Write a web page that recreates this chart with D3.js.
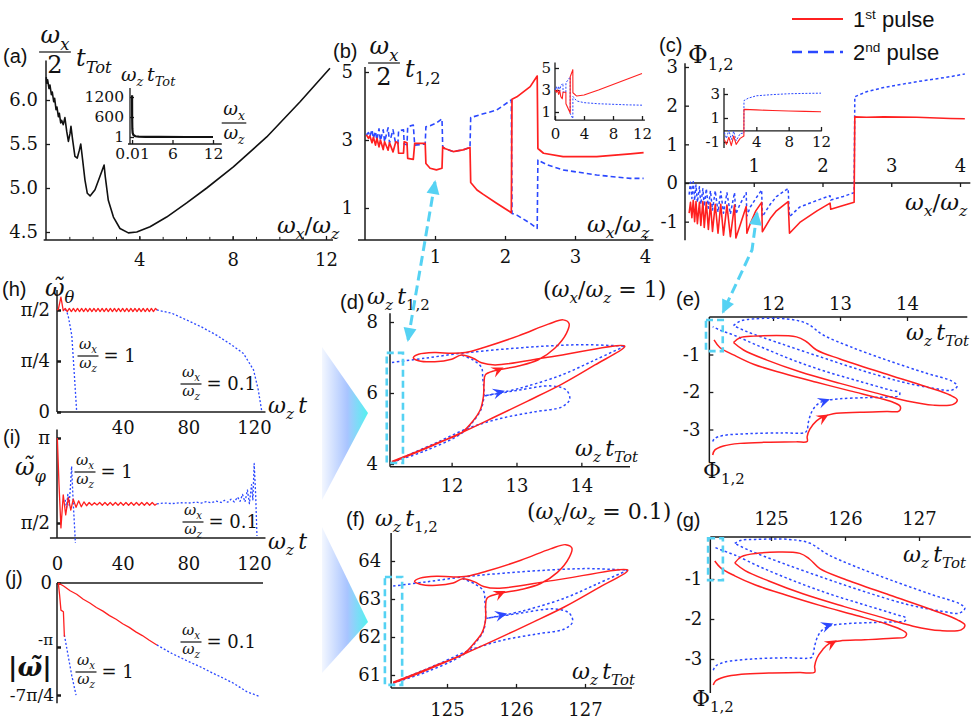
<!DOCTYPE html>
<html><head><meta charset="utf-8">
<script src="https://cdn.jsdelivr.net/npm/d3@7/dist/d3.min.js"></script>
<style>html,body{margin:0;padding:0;background:#fff}svg{display:block}text{white-space:pre}</style>
</head><body>
<svg id="fig" width="980" height="719"></svg>
<script>
// ================= DATA =================
const PI = Math.PI;
// (a) omega_x/2 * t_Tot vs omega_x/omega_z
const aMain = [[0.01,6.26],[0.03,6.19],[0.07,6.23],[0.13,6.13],[0.17,6.17],[0.23,6.06],[0.27,6.09],[0.33,5.98],[0.37,6.02],[0.43,5.89],[0.47,5.92],[0.53,5.81],[0.57,5.85],[0.63,5.74],[0.67,5.77],[0.74,5.72],[0.81,5.80],[0.89,5.64],[0.96,5.53],[1.03,5.62],[1.07,5.70],[1.14,5.55],[1.24,5.36],[1.34,5.34],[1.43,5.43],[1.49,5.50],[1.57,5.32],[1.67,5.09],[1.77,4.94],[1.89,4.91],[2.10,4.98],[2.31,5.13],[2.49,5.26],[2.54,5.13],[2.67,4.86],[2.89,4.67],[3.17,4.54],[3.53,4.49],[3.89,4.50],[4.46,4.56],[5.17,4.67],[6.03,4.83],[6.89,5.00],[8.03,5.24],[9.46,5.58],[10.89,5.98],[12.17,6.36]];
const aInset = [[0.01,1250],[0.02,630],[0.05,250],[0.1,125],[0.2,62],[0.5,24],[1,11],[2,5],[4,2.3],[8,1.3],[12,1.1]];
const aXTicks = [4,8,12], aYTicks = [4.5,5.0,5.5,6.0];
const aInX = [0.01,6,12], aInXLab = ['0.01','6','12'], aInY = [1,600,1200];
// (b) omega_x/2 * t_{1,2}
const bRed = [[0.02,3.15],[0.05,3.05],[0.07,3.12],[0.10,2.92],[0.12,3.08],[0.15,2.85],[0.17,3.05],[0.20,2.80],[0.22,3.00],[0.26,2.72],[0.28,2.95],[0.33,2.70],[0.35,2.92],[0.40,2.65],[0.44,2.95],[0.47,2.92],[0.48,2.61],[0.55,2.61],[0.56,2.95],[0.60,2.92],[0.61,2.46],[0.69,2.43],[0.71,2.90],[0.86,2.90],[0.87,2.31],[0.93,2.17],[1.02,2.12],[1.10,2.17],[1.11,2.80],[1.14,2.75],[1.26,2.66],[1.40,2.71],[1.50,2.78],[1.51,1.75],[1.60,1.53],[1.69,1.40],[1.88,1.14],[2.07,0.89],[2.09,0.86],[2.10,4.20],[2.17,4.27],[2.36,4.57],[2.46,4.88],[2.47,2.75],[2.55,2.61],[2.83,2.51],[3.31,2.51],[3.79,2.59],[3.98,2.63]];
const bBlue = [[0.02,3.15],[0.05,3.22],[0.07,3.10],[0.10,3.30],[0.12,3.05],[0.15,3.25],[0.17,3.00],[0.20,3.33],[0.22,2.98],[0.26,3.30],[0.28,2.95],[0.33,3.36],[0.35,2.92],[0.40,3.30],[0.44,2.88],[0.47,2.90],[0.48,3.27],[0.55,3.30],[0.56,2.88],[0.60,2.86],[0.61,3.39],[0.69,3.44],[0.71,2.85],[0.86,2.88],[0.87,3.39],[0.93,3.42],[1.02,3.50],[1.10,3.62],[1.11,2.80],[1.14,2.75],[1.26,2.66],[1.40,2.71],[1.50,2.78],[1.51,3.66],[1.69,3.77],[1.88,3.88],[2.09,4.18],[2.10,0.84],[2.17,0.79],[2.36,0.55],[2.46,0.40],[2.47,2.41],[2.60,2.27],[2.83,2.12],[3.31,1.97],[3.79,1.87],[3.98,1.87]];
const bInRed = [[0.02,3.0],[0.2,2.8],[0.35,3.0],[0.5,2.6],[0.65,2.95],[0.8,2.4],[1.0,2.2],[1.1,2.8],[1.5,2.8],[1.51,1.75],[2.09,0.9],[2.10,4.2],[2.46,4.85],[2.47,2.75],[3,2.45],[4,2.55],[6,3.0],[8,3.5],[10,4.0],[12,4.5]];
const bInBlue = [[0.02,3.0],[0.2,3.3],[0.35,2.9],[0.5,3.35],[0.65,2.9],[0.8,3.4],[1.1,3.6],[1.11,2.8],[1.5,2.8],[1.51,3.66],[2.09,4.18],[2.10,0.84],[2.46,0.4],[2.47,2.41],[3,2.0],[4,1.85],[6,1.75],[8,1.7],[10,1.65],[12,1.62]];
const bXTicks = [1,2,3,4], bYTicks = [1,3,5], bInX = [0,4,8,12], bInY = [1,3,5];
// (c) Phi_{1,2}
const cRed = [[0.06,-0.78],[0.08,-0.50],[0.10,-0.90],[0.12,-0.45],[0.14,-1.0],[0.16,-0.48],[0.18,-1.05],[0.21,-0.50],[0.23,-1.10],[0.26,-0.48],[0.28,-1.15],[0.31,-0.50],[0.34,-1.20],[0.37,-0.52],[0.40,-1.25],[0.44,-0.55],[0.48,-1.30],[0.52,-0.55],[0.56,-1.35],[0.61,-0.57],[0.66,-1.39],[0.72,-0.57],[0.74,-1.42],[0.80,-1.10],[0.89,-0.61],[0.90,-1.30],[0.95,-1.05],[1.03,-0.72],[1.115,-0.50],[1.125,-1.26],[1.24,-0.92],[1.33,-0.72],[1.50,-0.48],[1.52,-1.30],[1.67,-1.02],[1.92,-0.72],[2.11,-0.52],[2.12,-0.68],[2.30,-0.58],[2.46,-0.50],[2.47,1.71],[2.64,1.70],[2.89,1.71],[3.37,1.70],[3.86,1.67],[4.07,1.66]];
const cBlue = [[0.06,-0.30],[0.08,0.02],[0.10,-0.40],[0.12,0.03],[0.14,-0.45],[0.16,-0.05],[0.18,-0.50],[0.21,-0.10],[0.23,-0.55],[0.26,-0.15],[0.28,-0.60],[0.31,-0.15],[0.34,-0.65],[0.37,-0.20],[0.40,-0.70],[0.44,-0.20],[0.48,-0.75],[0.52,-0.22],[0.56,-0.78],[0.61,-0.25],[0.66,-0.80],[0.72,-0.25],[0.74,-0.80],[0.80,-0.55],[0.89,-0.25],[0.90,-0.85],[0.95,-0.62],[1.03,-0.40],[1.115,-0.18],[1.125,-0.87],[1.24,-0.55],[1.33,-0.35],[1.50,-0.14],[1.52,-0.87],[1.67,-0.62],[1.92,-0.45],[2.11,-0.33],[2.12,-0.44],[2.30,-0.35],[2.46,-0.25],[2.47,2.23],[2.64,2.36],[2.89,2.47],[3.37,2.62],[3.86,2.75],[4.07,2.82]];
const cInRed = [[0.05,-0.8],[0.3,-1.2],[0.6,-0.6],[0.9,-1.3],[1.2,-0.5],[1.5,-1.2],[2.0,-0.7],[2.46,-0.5],[2.47,1.72],[4,1.68],[6,1.62],[8,1.58],[10,1.55],[12,1.52]];
const cInBlue = [[0.05,-0.2],[0.3,-0.7],[0.6,0.0],[0.9,-0.8],[1.2,-0.1],[1.5,-0.9],[2.0,-0.3],[2.46,-0.25],[2.47,2.45],[3,2.65],[4,2.85],[6,2.95],[8,3.02],[10,3.05],[12,3.07]];
const cXTicks = [1,2,3,4], cYTicks = [-1,0,1,2,3], cInX = [4,8,12], cInY = [-1,1,3];
// (d) omega_x/omega_z = 1 : (w_z t_Tot, w_z t_{1,2})
const dRed = [[11.08,4.07],[11.49,4.37],[11.79,4.60],[12.15,4.88],[12.32,5.19],[12.44,5.52],[12.49,5.90],[12.50,6.27],[12.52,6.51],[12.67,6.63],[13.03,6.76],[13.33,6.93],[13.59,7.26],[13.77,7.68],[13.81,7.96],[13.72,8.06],[13.49,7.94],[13.03,7.61],[12.51,7.29],[12.21,7.14],[12.00,7.12],[11.74,7.14],[11.49,7.09],[11.41,6.99],[11.49,6.91],[11.74,6.88],[12.00,6.95],[12.15,7.07],[12.33,6.98],[12.46,6.85],[12.67,6.79],[13.54,7.02],[14.67,7.32],[14.21,6.79],[13.70,6.25],[13.18,5.78],[12.67,5.33],[12.15,4.88],[11.49,4.35],[11.08,4.05]];
const dBlueA = [[11.08,4.05],[11.59,4.37],[12.15,4.86],[12.35,5.24],[12.46,5.57],[12.50,5.99],[12.48,6.41],[12.46,6.72],[12.33,6.93],[12.15,7.07]];
const dBlueB = [[11.08,6.86],[11.59,6.98],[12.15,7.12],[12.77,7.23],[13.44,7.32],[14.05,7.36],[14.67,7.32]];
const dBlueC = [[14.67,7.32],[14.21,6.93],[13.70,6.51],[13.18,6.20],[12.93,6.08],[12.51,5.92]];
const dBlueD = [[12.51,5.92],[13.03,6.08],[13.54,6.20],[13.77,6.08],[13.82,5.82],[13.70,5.61],[13.28,5.47],[12.77,5.29],[12.26,5.01],[11.74,4.58],[11.28,4.21],[11.08,4.05]];
const dArrRed = [[12.80,6.72],[13.13,7.0]], dArrBlue = [[12.82,6.06],[13.13,6.21]];
const dBox = [11.0,11.25,4.03,7.13];
const dXTicks = [12,13,14], dYTicks = [4,6,8];
// (f) omega_x/omega_z = 0.1
const fRed = [[124.22,60.81],[124.61,61.08],[124.89,61.29],[125.23,61.54],[125.39,61.83],[125.51,62.12],[125.56,62.47],[125.56,62.81],[125.58,63.02],[125.73,63.13],[126.07,63.25],[126.35,63.40],[126.60,63.70],[126.77,64.09],[126.81,64.34],[126.72,64.43],[126.50,64.32],[126.07,64.02],[125.57,63.73],[125.29,63.60],[125.09,63.58],[124.85,63.60],[124.61,63.55],[124.53,63.46],[124.61,63.39],[124.85,63.36],[125.09,63.42],[125.23,63.53],[125.40,63.45],[125.53,63.33],[125.73,63.28],[126.55,63.49],[127.62,63.76],[127.18,63.28],[126.70,62.79],[126.21,62.36],[125.73,61.95],[125.23,61.54],[124.61,61.06],[124.22,60.79]];
const fBlueA = [[124.22,60.79],[124.70,61.08],[125.23,61.53],[125.42,61.87],[125.53,62.17],[125.56,62.55],[125.55,62.93],[125.53,63.21],[125.40,63.40],[125.23,63.53]];
const fBlueB = [[124.22,63.34],[124.70,63.45],[125.23,63.58],[125.82,63.68],[126.46,63.76],[127.03,63.80],[127.62,63.76]];
const fBlueC = [[127.62,63.76],[127.18,63.40],[126.70,63.02],[126.21,62.74],[125.97,62.63],[125.57,62.49]];
const fBlueD = [[125.57,62.49],[126.07,62.63],[126.55,62.74],[126.77,62.63],[126.82,62.40],[126.70,62.21],[126.30,62.08],[125.82,61.92],[125.34,61.66],[124.85,61.27],[124.41,60.94],[124.22,60.79]];
const fArrRed = [[125.85,63.21],[126.16,63.47]], fArrBlue = [[125.87,62.62],[126.16,62.75]];
const fBox = [124.10,124.35,60.74,63.58];
const fXTicks = [125,126,127], fYTicks = [61,62,63,64];
// (e) omega_x/omega_z = 1 : (w_z t_Tot, Phi_{1,2})
const eRedA = [[11.10,-3.68],[11.13,-3.55],[11.26,-3.44],[11.51,-3.37],[11.91,-3.34],[12.35,-3.33],[12.51,-3.32],[12.51,-3.19],[12.55,-2.99],[12.65,-2.77],[12.74,-2.67],[12.90,-2.58],[13.30,-2.54],[13.70,-2.52],[13.88,-2.51],[13.90,-2.39],[13.80,-2.28],[13.60,-2.17],[13.15,-1.97],[12.65,-1.74],[12.15,-1.50],[11.71,-1.26],[11.41,-1.01],[11.21,-0.82],[11.12,-0.61]];
const eRedB = [[11.41,-0.68],[11.51,-0.55],[11.71,-0.51],[12.35,-0.53],[12.50,-0.66],[12.65,-0.88],[13.00,-1.12],[13.65,-1.50],[14.29,-1.86],[14.64,-2.08],[14.75,-2.21],[14.69,-2.33],[14.39,-2.35],[14.00,-2.24],[13.50,-2.01],[13.00,-1.77],[12.40,-1.46],[11.91,-1.15],[11.56,-0.88],[11.41,-0.68]];
const eBlueA = [[11.10,-3.32],[11.13,-3.24],[11.26,-3.16],[11.66,-3.11],[12.15,-3.09],[12.48,-3.08],[12.51,-3.01],[12.53,-2.79],[12.58,-2.52],[12.65,-2.35],[12.76,-2.24],[13.00,-2.18],[13.40,-2.15],[13.75,-2.13],[13.88,-2.10],[13.89,-2.02],[13.75,-1.95],[13.30,-1.72],[12.80,-1.46],[12.30,-1.15],[11.81,-0.79],[11.41,-0.48],[11.21,-0.35],[11.10,-0.26]];
const eBlueB = [[11.41,-0.23],[11.51,-0.11],[11.71,-0.05],[12.20,-0.05],[12.50,-0.17],[12.75,-0.48],[13.15,-0.79],[13.70,-1.15],[14.29,-1.50],[14.67,-1.71],[14.75,-1.84],[14.67,-1.95],[14.39,-1.90],[13.90,-1.72],[13.30,-1.41],[12.70,-1.06],[12.10,-0.70],[11.61,-0.39],[11.41,-0.23]];
const eArrRed = [[12.83,-2.60],[13.13,-2.29]], eArrBlue = [[12.85,-2.19],[13.15,-2.0]];
const eBox = [11.0,11.25,-0.08,-0.91];
const eXTicks = [12,13,14], eYTicks = [-1,-2,-3];
// (g) omega_x/omega_z = 0.1
const gRedA = [[124.22,-3.65],[124.25,-3.55],[124.37,-3.45],[124.60,-3.38],[124.97,-3.35],[125.39,-3.34],[125.59,-3.33],[125.59,-3.18],[125.62,-2.98],[125.70,-2.76],[125.78,-2.62],[125.93,-2.55],[126.27,-2.52],[126.64,-2.48],[126.81,-2.45],[126.83,-2.36],[126.74,-2.25],[126.55,-2.12],[126.13,-1.90],[125.66,-1.66],[125.20,-1.40],[124.79,-1.15],[124.51,-0.92],[124.32,-0.72],[124.24,-0.55]];
const gRedB = [[124.51,-0.60],[124.60,-0.44],[124.79,-0.36],[125.39,-0.36],[125.52,-0.50],[125.66,-0.74],[125.99,-1.00],[126.60,-1.40],[127.19,-1.78],[127.52,-2.02],[127.62,-2.15],[127.57,-2.27],[127.29,-2.29],[126.92,-2.18],[126.46,-1.94],[125.99,-1.69],[125.43,-1.37],[124.97,-1.05],[124.65,-0.79],[124.51,-0.60]];
const gBlueA = [[124.22,-3.28],[124.25,-3.18],[124.37,-3.08],[124.74,-3.0],[125.20,-2.97],[125.55,-2.96],[125.57,-2.88],[125.59,-2.68],[125.63,-2.44],[125.69,-2.28],[125.80,-2.17],[126.0,-2.12],[126.36,-2.09],[126.69,-2.07],[126.81,-2.05],[126.82,-1.97],[126.69,-1.89],[126.27,-1.65],[125.80,-1.38],[125.34,-1.07],[124.88,-0.72],[124.51,-0.40],[124.32,-0.27],[124.22,-0.19]];
const gBlueB = [[124.51,-0.11],[124.60,-0.03],[124.79,-0.01],[125.24,-0.01],[125.52,-0.10],[125.76,-0.38],[126.13,-0.68],[126.64,-1.04],[127.19,-1.40],[127.55,-1.62],[127.62,-1.73],[127.55,-1.85],[127.29,-1.80],[126.83,-1.63],[126.27,-1.32],[125.71,-0.97],[125.15,-0.60],[124.70,-0.28],[124.51,-0.11]];
const gArrRed = [[125.89,-2.53],[126.16,-2.24]], gArrBlue = [[125.84,-2.11],[126.11,-1.93]];
const gBox = [124.15,124.35,0.02,-1.03];
const gXTicks = [125,126,127], gYTicks = [-1,-2,-3];
// (h) omega-tilde_theta vs w_z t
const hRed = [[0,1.571],[0.8,1.58],[2.4,1.77],[3.8,1.56],[5.0,1.595],[6.25,1.547],[7.5,1.595],[8.75,1.547],[10,1.595],[11.25,1.547],[12.5,1.595],[13.75,1.547],[15,1.595],[16.25,1.547],[17.5,1.595],[18.75,1.547],[20,1.595],[21.25,1.547],[22.5,1.595],[23.75,1.547],[25,1.595],[26.25,1.547],[27.5,1.595],[28.75,1.547],[30,1.595],[31.25,1.547],[32.5,1.595],[33.75,1.547],[35,1.595],[36.25,1.547],[37.5,1.595],[38.75,1.547],[40,1.595],[41.25,1.547],[42.5,1.595],[43.75,1.547],[45,1.595],[46.25,1.547],[47.5,1.595],[48.75,1.547],[50,1.595],[51.25,1.547],[52.5,1.595],[53.75,1.547],[55,1.595],[56.25,1.547],[57.5,1.595],[58.75,1.547],[60,1.595],[61,1.571]];
const hBlue1 = [[4.8,1.58],[5.8,1.56],[6.9,1.47],[9.0,1.18],[10.5,0.6],[12.0,0]];
const hBlue01 = [[60.8,1.571],[70,1.52],[79.1,1.415],[88,1.31],[97.4,1.18],[106,1.04],[113.6,0.90],[119.7,0.65],[122.6,0.34],[124.8,0]];
const hXTicks = [40,80,120], hYTicks = [0,PI/4,PI/2], hYLab = ['0','π/4','π/2'];
// (i) omega-tilde_phi
const iRed = [[0.2,3.14],[1.2,2.3],[2.4,1.48],[3.8,2.09],[5.3,1.72],[6.9,2.04],[8.4,1.81],[9.9,2.01],[11.6,1.86],[13.2,1.98],[14.8,1.87],[16.4,1.96],[18.0,1.89],[19.6,1.95],[21.2,1.90],[22.8,1.945],[24.4,1.905],[26.0,1.95],[27.6,1.90],[29.2,1.95],[30.8,1.90],[32.4,1.95],[34,1.90],[35.6,1.95],[37.2,1.90],[38.8,1.95],[40.4,1.90],[42,1.95],[43.6,1.90],[45.2,1.95],[46.8,1.90],[48.4,1.95],[50,1.90],[51.6,1.95],[53.2,1.90],[54.8,1.95],[56.4,1.90],[58,1.95],[59.6,1.90],[60.8,1.925]];
const iBlue1 = [[5.0,2.0],[5.8,1.85],[6.6,2.1],[7.4,1.9],[8.3,2.3],[8.9,2.62],[9.8,2.0],[10.6,1.55],[11.2,1.20]];
const iBlue01 = [[60.8,1.925],[65,1.94],[70,1.93],[75,1.945],[80,1.94],[85,1.955],[88,1.94],[91,1.965],[94,1.945],[97,1.975],[100,1.95],[102,1.99],[104,1.955],[106,2.01],[108,1.96],[110,2.05],[111.5,1.97],[113,2.10],[114.5,1.96],[116,2.18],[117.2,1.93],[118.5,2.28],[119.3,2.0],[120.1,2.67],[121,2.1],[121.8,1.33]];
const iXTicks = [0,40,80,120], iYTicks = [PI/2,PI], iYLab = ['π/2','π'];
// (j) |omega-tilde|
const jRed1 = [[0.8,0],[1.6,-0.6],[2.4,-1.33],[3.9,-1.41],[4.5,-2.64]];
const jBlue1 = [[4.5,-2.55],[5.5,-3.0],[6.9,-3.62],[9.0,-4.55],[11.6,-5.50]];
const jRed01 = [[0.8,0],[4,-0.15],[8,-0.38],[12,-0.55],[16,-0.80],[20,-0.98],[24,-1.20],[28,-1.38],[32,-1.60],[36,-1.78],[40,-2.0],[44,-2.18],[48,-2.40],[52,-2.58],[56,-2.80],[60.8,-3.04]];
const jBlue01 = [[60.8,-3.04],[70,-3.46],[80,-3.85],[87.2,-4.11],[95,-4.43],[100,-4.62],[107.5,-4.92],[115.7,-5.34],[122.8,-5.55]];
const jYTicks = [0,-PI,-7*PI/4];
const legendLabels = [['1','st',' pulse'],['2','nd',' pulse']];

// ================= STYLE / HELPERS =================
const RED = '#ff2020', BLUE = '#2b48ff', CYAN = '#55d2f3', AX = '#1a1a1a';
const SERIF = "'DejaVu Serif', serif", SANS = "'Liberation Sans', Arial, sans-serif";
const svg = d3.select('#fig');
const SUBK = 0.28;

function mt(g, x, y, parts, fs, opt) {
  opt = opt || {};
  const t = g.append('text').attr('x', x).attr('y', y)
    .attr('font-family', opt.family || SERIF).attr('font-size', fs)
    .attr('text-anchor', opt.anchor || 'start').attr('fill', '#111');
  if (opt.weight) t.attr('font-weight', opt.weight);
  let cur = 0;
  parts.forEach(([s, m]) => {
    let off = 0, sz = fs;
    if (m === 'si' || m === 'sr') { off = fs * SUBK; sz = fs * 0.68; }
    if (m === 'p') { off = -fs * 0.38; sz = fs * 0.62; }
    const sp = t.append('tspan').attr('font-size', sz).text(s);
    if (off !== cur) sp.attr('dy', off - cur);
    cur = off;
    if (m === 'i' || m === 'si') sp.attr('font-style', 'italic');
  });
  return t;
}
function frac(g, cx, by, num, den, fs, denOff, numOff) {
  const n = mt(g, cx, by - fs * (numOff || 0.36), num, fs, {anchor: 'middle'});
  const d = mt(g, cx, by + fs * (denOff || 0.62), den, fs, {anchor: 'middle'});
  const w = Math.max(n.node().getComputedTextLength(), d.node().getComputedTextLength()) + 3;
  g.append('line').attr('x1', cx - w / 2).attr('x2', cx + w / 2).attr('y1', by).attr('y2', by)
    .attr('stroke', '#111').attr('stroke-width', 1.2);
  return cx + w / 2;
}
function hline(g, x1, x2, y, w) { g.append('line').attr('x1', x1).attr('x2', x2).attr('y1', y).attr('y2', y).attr('stroke', AX).attr('stroke-width', w || 1.5); }
function vline(g, x, y1, y2, w) { g.append('line').attr('x1', x).attr('x2', x).attr('y1', y1).attr('y2', y2).attr('stroke', AX).attr('stroke-width', w || 1.5); }
function styleAxis(gg, fs, tw) {
  gg.select('.domain').remove();
  gg.selectAll('.tick line').attr('stroke', AX).attr('stroke-width', tw || 1.3);
  gg.selectAll('text').attr('font-family', SERIF).attr('font-size', fs).attr('fill', '#111');
  return gg;
}
function xAxis(g, sc, y0, ticks, fmt, fs, pad, top, size, tw) {
  const ax = (top ? d3.axisTop(sc) : d3.axisBottom(sc)).tickValues(ticks).tickSize(size === undefined ? -4 : size).tickPadding(pad).tickFormat(fmt);
  return styleAxis(g.append('g').attr('transform', `translate(0,${y0})`).call(ax), fs, tw);
}
function yAxis(g, sc, x0, ticks, fmt, fs, pad, size, tw) {
  const ax = d3.axisLeft(sc).tickValues(ticks).tickSize(size === undefined ? -4 : size).tickPadding(pad).tickFormat(fmt);
  return styleAxis(g.append('g').attr('transform', `translate(${x0},0)`).call(ax), fs, tw);
}
function plot(g, data, S, color, dash, width, curve) {
  g.append('path').datum(data)
    .attr('d', d3.line().x(d => S.x(d[0])).y(d => S.y(d[1])).curve(curve || d3.curveLinear))
    .attr('fill', 'none').attr('stroke', color).attr('stroke-width', width || 1.5)
    .attr('stroke-dasharray', dash || null).attr('stroke-linejoin', 'round');
}
function arrowHead(g, S, a, color) {
  const p = [S.x(a[0][0]), S.y(a[0][1])], q = [S.x(a[1][0]), S.y(a[1][1])];
  const ang = Math.atan2(q[1] - p[1], q[0] - p[0]) * 180 / PI;
  g.append('path').attr('d', 'M0,0 L-12,-5.5 L-7.5,0 L-12,5.5 Z').attr('fill', color)
    .attr('transform', `translate(${p[0]},${p[1]}) rotate(${ang})`);
}
function box(g, S, b) {
  const x1 = S.x(b[0]), x2 = S.x(b[1]), y1 = S.y(b[2]), y2 = S.y(b[3]);
  g.append('rect').attr('x', Math.min(x1, x2)).attr('y', Math.min(y1, y2))
    .attr('width', Math.abs(x2 - x1)).attr('height', Math.abs(y2 - y1))
    .attr('fill', 'none').attr('stroke', CYAN).attr('stroke-width', 2.6).attr('stroke-dasharray', '7,4');
}
const idf = d => d;
const CR = d3.curveCatmullRom.alpha(0.5);
const wx = [['ω','i'],['x','si']], wz = [['ω','i'],['z','si']];
const ratio = [['ω','i'],['x','si'],['/','r'],['ω','i'],['z','si']];
function note(cx, by, val) {
  const xe = frac(svg, cx, by, wx, wz, 15, 0.8, 0.45);
  mt(svg, xe + 5, by + 6, [['= ' + val, 'r']], 18);
}

// ================= BACKGROUND DECOR =================
const defs = svg.append('defs');
const grad = defs.append('linearGradient').attr('id', 'tri').attr('x1', '0%').attr('x2', '100%').attr('y1', '0%').attr('y2', '0%');
grad.append('stop').attr('offset', '0%').attr('stop-color', '#f3f7ff');
grad.append('stop').attr('offset', '55%').attr('stop-color', '#a9c4ff');
grad.append('stop').attr('offset', '100%').attr('stop-color', '#52f2f0');
svg.append('polygon').attr('points', '322,347 368,413 322,500').attr('fill', 'url(#tri)');
svg.append('polygon').attr('points', '322,527 368,622 322,673').attr('fill', 'url(#tri)');

// ================= (a) =================
const A = {x: d3.scaleLinear([0, 12], [46, 326]), y: d3.scaleLinear([4.5, 6.0], [232, 100])};
vline(svg, A.x(0), A.y(4.41), A.y(6.45));
hline(svg, A.x(-0.1), A.x(12.3), A.y(4.41));
yAxis(svg, A.y, A.x(0), aYTicks, d3.format('.1f'), 18, 8);
xAxis(svg, A.x, A.y(4.41), aXTicks, idf, 18, 13);
xAxis(svg, A.x, A.y(4.41), d3.range(1, 13), () => '', 10, 0, false, -3, 1);
plot(svg, aMain, A, '#111', null, 1.6);
mt(svg, 3, 63, [['(a)', 'r']], 20, {family: SANS});
frac(svg, 55, 52, wx, [['2', 'r']], 24, 0.88);
mt(svg, 76, 66, [['t', 'i'], ['Tot', 'si']], 24);
mt(svg, 277, 233, ratio, 23);
// inset
const AI = {x: d3.scaleLinear([0, 12], [132, 213]), y: d3.scaleLinear([1, 1200], [137, 97])};
vline(svg, 130, AI.y(-209), AI.y(1470), 1.3);
hline(svg, 128, AI.x(13.3), AI.y(-209), 1.3);
yAxis(svg, AI.y, 130, aInY, idf, 15.5, 6);
xAxis(svg, AI.x, AI.y(-209), aInX, (d, i) => aInXLab[i], 15.5, 4);
plot(svg, aInset, AI, '#111', null, 2.2);
mt(svg, 121, 81, [['ω', 'i'], ['z', 'si'], ['\u2009t', 'i'], ['Tot', 'si']], 19);
frac(svg, 234, 123, wx, wz, 18, 0.88, 0.42);

// ================= (b) =================
const B = {x: d3.scaleLinear([0, 4], [365, 645]), y: d3.scaleLinear([1, 5], [208, 72])};
vline(svg, B.x(0), B.y(0.06), B.y(5.15));
hline(svg, B.x(-0.1), B.x(4.12), B.y(0.06));
yAxis(svg, B.y, B.x(0), bYTicks, idf, 18, 12);
xAxis(svg, B.x, B.y(0.06), bXTicks, idf, 18, 10);
plot(svg, bBlue, B, BLUE, '5,3', 1.6);
plot(svg, bRed, B, RED, null, 1.7);
mt(svg, 333, 58, [['(b)', 'r']], 20, {family: SANS});
frac(svg, 384, 63, wx, [['2', 'r']], 24, 0.9);
mt(svg, 405, 77, [['t', 'i'], ['1,2', 'sr']], 24);
mt(svg, 587, 232, ratio, 23);
// inset
const BI = {x: d3.scaleLinear([0, 12], [555, 642]), y: d3.scaleLinear([0, 5], [123, 68])};
vline(svg, BI.x(0), BI.y(0.27), BI.y(5.5), 1.3);
hline(svg, BI.x(0), BI.x(12.4), BI.y(0.27), 1.3);
yAxis(svg, BI.y, BI.x(0), bInY, idf, 15, 4);
xAxis(svg, BI.x, BI.y(0.27), bInX, idf, 15, 8);
plot(svg, bInBlue, BI, BLUE, '2,1.5', 1);
plot(svg, bInRed, BI, RED, null, 1.1);

// ================= (c) =================
const C = {x: d3.scaleLinear([0, 4], [685, 960]), y: d3.scaleLinear([0, 3], [183, 67])};
vline(svg, C.x(0), C.y(-1.48), C.y(3.1));
hline(svg, C.x(0), C.x(4.15), C.y(0));
yAxis(svg, C.y, C.x(0), cYTicks, idf, 18, 7);
xAxis(svg, C.x, C.y(0), cXTicks, idf, 18, 11, true);
plot(svg, cBlue, C, BLUE, '3,2.5', 1.5);
plot(svg, cRed, C, RED, null, 1.6);
mt(svg, 659, 52, [['(c)', 'r']], 20, {family: SANS});
mt(svg, 688, 63, [['Φ', 'r'], ['1,2', 'sr']], 24);
mt(svg, 905, 210, ratio, 23);
// inset
const CI = {x: d3.scaleLinear([0, 12], [724, 821]), y: d3.scaleLinear([0, 3], [130, 94])};
vline(svg, CI.x(0), CI.y(-1.5), CI.y(3.5), 1.3);
hline(svg, CI.x(0), CI.x(12.1), CI.y(-0.08), 1.3);
yAxis(svg, CI.y, CI.x(0), cInY, idf, 15, 4);
xAxis(svg, CI.x, CI.y(-0.08), cInX, idf, 15, 5);
plot(svg, cInBlue, CI, BLUE, '2,1.5', 1);
plot(svg, cInRed, CI, RED, null, 1.1);
// legend
svg.append('line').attr('x1', 792).attr('x2', 843).attr('y1', 19).attr('y2', 19).attr('stroke', RED).attr('stroke-width', 2);
svg.append('line').attr('x1', 792).attr('x2', 843).attr('y1', 52).attr('y2', 52).attr('stroke', BLUE).attr('stroke-width', 2.4).attr('stroke-dasharray', '10,6');
legendLabels.forEach((l, i) => mt(svg, 853, 27 + i * 33, [[l[0], 'r'], [l[1], 'p'], [l[2], 'r']], 22, {family: SANS}));

// ================= (d) =================
const D = {x: d3.scaleLinear([11.05, 14.75], [390, 630]), y: d3.scaleLinear([4, 8], [464, 322])};
vline(svg, D.x(11.05), D.y(3.92), D.y(8.25));
hline(svg, D.x(11.05), D.x(14.75), D.y(3.92));
yAxis(svg, D.y, D.x(11.05), dYTicks, idf, 18, 12);
xAxis(svg, D.x, D.y(3.92), dXTicks, idf, 18, 12);
[dBlueA, dBlueB, dBlueC, dBlueD].forEach(s => plot(svg, s, D, BLUE, '2.5,2.5', 1.5, CR));
plot(svg, dRed, D, RED, null, 1.5, CR);
arrowHead(svg, D, dArrRed, RED); arrowHead(svg, D, dArrBlue, BLUE);
box(svg, D, dBox);
mt(svg, 340, 309, [['(d)', 'r']], 20, {family: SANS});
mt(svg, 367, 304, [['ω', 'i'], ['z', 'si'], ['\u2009t', 'i'], ['1,2', 'sr']], 22);
mt(svg, 575, 456, [['ω', 'i'], ['z', 'si'], ['\u2009t', 'i'], ['Tot', 'si']], 22);
mt(svg, 543, 297, [['(', 'r'], ['ω', 'i'], ['x', 'si'], ['/', 'r'], ['ω', 'i'], ['z', 'si'], [' = 1)', 'r']], 22);

// ================= (f) =================
const F = {x: d3.scaleLinear([125, 127], [447, 585]), y: d3.scaleLinear([61, 64], [675, 561])};
vline(svg, F.x(124.19), F.y(60.66), F.y(64.74));
hline(svg, F.x(124.19), F.x(127.68), F.y(60.66));
yAxis(svg, F.y, F.x(124.19), fYTicks, idf, 18, 10);
xAxis(svg, F.x, F.y(60.66), fXTicks, idf, 18, 15);
[fBlueA, fBlueB, fBlueC, fBlueD].forEach(s => plot(svg, s, F, BLUE, '2.5,2.5', 1.5, CR));
plot(svg, fRed, F, RED, null, 1.5, CR);
arrowHead(svg, F, fArrRed, RED); arrowHead(svg, F, fArrBlue, BLUE);
box(svg, F, fBox);
mt(svg, 346, 526, [['(f)', 'r']], 20, {family: SANS});
mt(svg, 375, 526, [['ω', 'i'], ['z', 'si'], ['\u2009t', 'i'], ['1,2', 'sr']], 22);
mt(svg, 572, 679, [['ω', 'i'], ['z', 'si'], ['\u2009t', 'i'], ['Tot', 'si']], 22);
mt(svg, 527, 519, [['(', 'r'], ['ω', 'i'], ['x', 'si'], ['/', 'r'], ['ω', 'i'], ['z', 'si'], [' = 0.1)', 'r']], 22);

// ================= (e) =================
const E = {x: d3.scaleLinear([11, 15], [706, 974]), y: d3.scaleLinear([0, -4], [317, 467])};
hline(svg, E.x(11.05), E.x(14.9), E.y(0));
vline(svg, E.x(11.05), E.y(0), E.y(-3.87));
yAxis(svg, E.y, E.x(11.05), eYTicks, idf, 18, 9);
xAxis(svg, E.x, E.y(0), eXTicks, idf, 18, 7, true);
[eBlueA, eBlueB].forEach(s => plot(svg, s, E, BLUE, '2.5,2.5', 1.5, CR));
[eRedA, eRedB].forEach(s => plot(svg, s, E, RED, null, 1.5, CR));
arrowHead(svg, E, eArrRed, RED); arrowHead(svg, E, eArrBlue, BLUE);
box(svg, E, eBox);
mt(svg, 676, 306, [['(e)', 'r']], 20, {family: SANS});
mt(svg, 906, 340, [['ω', 'i'], ['z', 'si'], ['\u2009t', 'i'], ['Tot', 'si']], 22);
mt(svg, 703, 478, [['Φ', 'r'], ['1,2', 'sr']], 22);

// ================= (g) =================
const G = {x: d3.scaleLinear([125, 127], [771, 919]), y: d3.scaleLinear([0, -4], [539, 699])};
hline(svg, G.x(124.18), G.x(127.7), G.y(0.05));
vline(svg, G.x(124.18), G.y(0.05), G.y(-3.85));
yAxis(svg, G.y, G.x(124.18), gYTicks, idf, 18, 8);
xAxis(svg, G.x, G.y(0.05), gXTicks, idf, 18, 12, true);
[gBlueA, gBlueB].forEach(s => plot(svg, s, G, BLUE, '2.5,2.5', 1.5, CR));
[gRedA, gRedB].forEach(s => plot(svg, s, G, RED, null, 1.5, CR));
arrowHead(svg, G, gArrRed, RED); arrowHead(svg, G, gArrBlue, BLUE);
box(svg, G, gBox);
mt(svg, 676, 527, [['(g)', 'r']], 20, {family: SANS});
mt(svg, 903, 562, [['ω', 'i'], ['z', 'si'], ['\u2009t', 'i'], ['Tot', 'si']], 22);
mt(svg, 692, 706, [['Φ', 'r'], ['1,2', 'sr']], 22);

// ================= (h) =================
const H = {x: d3.scaleLinear([0, 120], [57, 254]), y: d3.scaleLinear([0, PI / 2], [412, 310])};
hline(svg, H.x(0), H.x(127), H.y(0));
vline(svg, H.x(0), H.y(0), H.y(1.88));
yAxis(svg, H.y, H.x(0), hYTicks, (d, i) => hYLab[i], 18, 7, -4, 2.5);
xAxis(svg, H.x, H.y(0), hXTicks, idf, 18, 9, false, 0);
plot(svg, hBlue01, H, BLUE, '2,2', 1.3);
plot(svg, hBlue1, H, BLUE, '2,2', 1.3);
plot(svg, hRed, H, RED, null, 1.3);
mt(svg, 2, 296, [['(h)', 'r']], 20, {family: SANS});
mt(svg, 45, 296, [['ω\u0303', 'i'], ['θ', 'si']], 24);
mt(svg, 268, 413, [['ω', 'i'], ['z', 'si'], ['\u2009t', 'i']], 22);
note(88, 356, '1');
note(191, 384, '0.1');

// ================= (i) =================
const I = {x: H.x, y: d3.scaleLinear([PI / 2, PI], [523, 438])};
hline(svg, I.x(-4.3), I.x(127), I.y(1.293));
vline(svg, I.x(0), I.y(1.293), I.y(3.3));
yAxis(svg, I.y, I.x(0), iYTicks, (d, i) => iYLab[i], 18, 7, -4, 2.5);
xAxis(svg, I.x, I.y(1.293), iXTicks, idf, 18, 19, false, 0);
plot(svg, iBlue01, I, BLUE, '2,2', 1.3);
plot(svg, iBlue1, I, BLUE, '2,2', 1.3);
plot(svg, iRed, I, RED, null, 1.3);
mt(svg, 3, 444, [['(i)', 'r']], 20, {family: SANS});
mt(svg, 15, 475, [['ω\u0303', 'i'], ['φ', 'si']], 24);
mt(svg, 268, 549, [['ω', 'i'], ['z', 'si'], ['\u2009t', 'i']], 22);
note(85, 472, '1');
note(193, 522, '0.1');

// ================= (j) =================
const J = {x: H.x, y: d3.scaleLinear([0, -7 * PI / 4], [583, 695])};
hline(svg, J.x(0), J.x(125.5), J.y(0));
vline(svg, J.x(0), J.y(0), J.y(-5.9));
yAxis(svg, J.y, J.x(0), jYTicks, () => '', 18, 7, -4, 2.5);
plot(svg, jBlue01, J, BLUE, '2,2', 1.3);
plot(svg, jBlue1, J, BLUE, '2,2', 1.3);
plot(svg, jRed01, J, RED, null, 1.3);
plot(svg, jRed1, J, RED, null, 1.3);
mt(svg, 52, J.y(0) + 6, [['0', 'r']], 18, {anchor: 'end'});
mt(svg, 53, J.y(-PI) - 2, [['-π', 'r']], 15, {anchor: 'end'});
mt(svg, 54, J.y(-7 * PI / 4) + 6, [['-7π/4', 'r']], 17, {anchor: 'end'});
mt(svg, 5, 585, [['(j)', 'r']], 20, {family: SANS});
mt(svg, 8, 676, [['|', 'r'], ['ω\u0303', 'i'], ['|', 'r']], 26, {weight: 'bold'});
note(191, 642, '0.1');
note(86, 672, '1');

// ================= cyan dashed link arrows =================
function cyanArrow(pts) {
  svg.append('path').attr('d', d3.line()(pts)).attr('fill', 'none').attr('stroke', CYAN)
    .attr('stroke-width', 3).attr('stroke-dasharray', '10,5');
  [[pts[0], pts[1]], [pts[pts.length - 1], pts[pts.length - 2]]].forEach(([tip, prev]) => {
    const ang = Math.atan2(tip[1] - prev[1], tip[0] - prev[0]) * 180 / PI;
    svg.append('path').attr('d', 'M2,0 L-12,-6.5 L-12,6.5 Z').attr('fill', CYAN)
      .attr('transform', `translate(${tip[0]},${tip[1]}) rotate(${ang})`);
  });
}
cyanArrow([[435, 182], [408, 340]]);
cyanArrow([[757, 213], [752, 250], [723, 312]]);
</script>
</body></html>
